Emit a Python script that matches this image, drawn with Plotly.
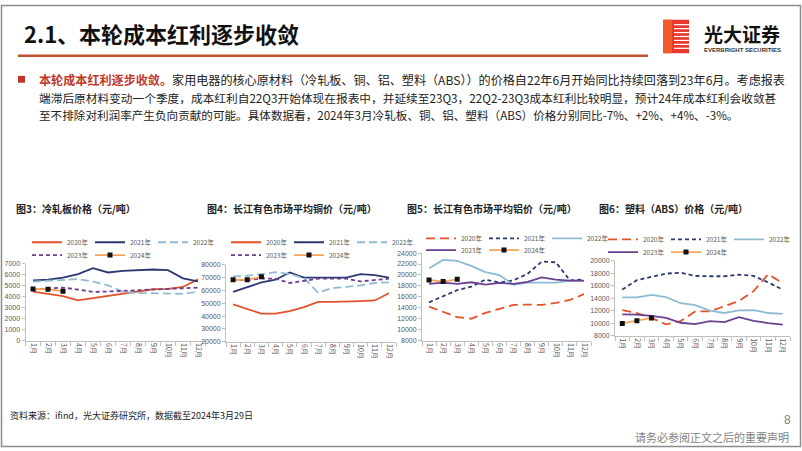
import plotly.graph_objects as go

W, H = 802, 451

months = ["1月", "2月", "3月", "4月", "5月", "6月", "7月", "8月", "9月", "10月", "11月", "12月"]
years = ["2020年", "2021年", "2022年", "2023年", "2024年"]

# 图3 冷轧板价格
steel_2020 = [4480, 4270, 4060, 3670, 3880, 4090, 4330, 4540, 4690, 4720, 4900, 5590]
steel_2021 = [5500, 5560, 5740, 6070, 6610, 6220, 6370, 6460, 6490, 6430, 5680, 5410]
steel_2022 = [5380, 5470, 5530, 5620, 5380, 5050, 4450, 4330, 4330, 4330, 4270, 4480]
steel_2023 = [4660, 4720, 4840, 4660, 4450, 4480, 4540, 4540, 4600, 4690, 4750, 4840]
steel_2024 = [4720, 4690, 4510]

# 图4 长江有色市场平均铜价
copper_2020 = [49100, 45750, 41900, 41900, 43950, 47000, 51150, 51150, 51700, 51700, 52200, 57850]
copper_2021 = [58900, 62500, 66350, 68400, 74100, 70000, 70000, 70000, 70000, 72800, 72000, 70000]
copper_2022 = [71000, 71500, 72800, 74300, 72800, 69700, 58400, 62000, 62750, 64000, 65850, 66350]
copper_2023 = [68150, 68150, 69450, 69200, 65850, 67650, 69200, 69200, 69200, 67100, 68150, 69200]
copper_2024 = [68400, 68400, 70700]

# 图5 长江有色市场平均铝价
alu_2020 = [14230, 13210, 12310, 12010, 13090, 13810, 14530, 14590, 14530, 14890, 15430, 16510]
alu_2021 = [15010, 16090, 17230, 17890, 19150, 18610, 19030, 20220, 22440, 22320, 19030, 19150]
alu_2022 = [21240, 22740, 22560, 21660, 20520, 19980, 18190, 18610, 18610, 18610, 18910, 18910]
alu_2023 = [18370, 18610, 18370, 18670, 18250, 18550, 18370, 18730, 19570, 19150, 18970, 18970]
alu_2024 = [19090, 18790, 19210]

# 图6 塑料（ABS）价格
abs_2020 = [12120, 11650, 10870, 9830, 10350, 11910, 11910, 12800, 13580, 15150, 17860, 16450]
abs_2021 = [15410, 16920, 17440, 17970, 18120, 17600, 17550, 17550, 17810, 17600, 16560, 15410]
abs_2022 = [14160, 14160, 14570, 14210, 13220, 12900, 12020, 11650, 12070, 12120, 11650, 11500]
abs_2023 = [11440, 11390, 11180, 10870, 10090, 9880, 10350, 10190, 10970, 10400, 10030, 9770]
abs_2024 = [9980, 10400, 10870]

chart_titles = ["图3：冷轧板价格（元/吨）", "图4：长江有色市场平均铜价（元/吨）",
                "图5：长江有色市场平均铝价（元/吨）", "图6：塑料（ABS）价格（元/吨）"]
y_ranges = [(0, 7000, 1000), (20000, 80000, 10000), (8000, 24000, 2000), (8000, 20000, 2000)]

series = [
    [steel_2020, steel_2021, steel_2022, steel_2023, steel_2024],
    [copper_2020, copper_2021, copper_2022, copper_2023, copper_2024],
    [alu_2020, alu_2021, alu_2022, alu_2023, alu_2024],
    [abs_2020, abs_2021, abs_2022, abs_2023, abs_2024],
]

# layout (pixel boxes): x0, x1, ytop, ybottom
boxes = [(25.5, 205.5, 264, 342), (226, 396, 265, 343), (422, 591, 253, 342), (615, 790, 261, 337)]
title_pos = [(14, 208), (205, 208), (405, 208), (597, 208)]
legend_pos = [(27, 242, 255), (226, 242, 255), (421, 238, 250), (603, 239, 252)]

C2020 = "#e2532c"
C2021 = "#2e3870"
C2022 = "#8fbbd2"
C2023 = "#6c3f90"
C2024 = "#f5a55a"
styles_a = [(C2020, "solid"), (C2021, "solid"), (C2022, "8px,4px"), (C2023, "4px,3px")]
styles_b = [(C2020, "9px,5px"), (C2021, "4px,3px"), (C2022, "solid"), (C2023, "solid")]


def px(x):
    return x / W


def py(y):
    return 1 - y / H


fig = go.Figure()
layout = dict(
    width=W, height=H, autosize=False,
    margin=dict(l=0, r=0, t=0, b=0),
    paper_bgcolor="white", plot_bgcolor="white",
    font=dict(family="Noto Sans CJK SC, Liberation Sans", color="#333333"),
)

for i in range(4):
    n = "" if i == 0 else str(i + 1)
    xa, ya = "x" + n, "y" + n
    x0, x1, yt, yb = boxes[i]
    lo, hi, dt = y_ranges[i]
    styles = styles_a if i < 2 else styles_b
    lg1 = "legend" if i == 0 else "legend" + str(2 * i + 1)
    lg2 = "legend" + str(2 * i + 2)
    for k in range(4):
        col, dash = styles[k]
        fig.add_trace(go.Scatter(
            x=months, y=series[i][k], name=years[k], mode="lines",
            line=dict(color=col, width=1.8, dash=dash),
            xaxis=xa, yaxis=ya, legend=lg1 if k < 3 else lg2,
        ))
    fig.add_trace(go.Scatter(
        x=months[:len(series[i][4])], y=series[i][4], name=years[4], mode="lines+markers",
        line=dict(color=C2024, width=1.8),
        marker=dict(symbol="square", size=5, color="#111111"),
        xaxis=xa, yaxis=ya, legend=lg2,
    ))
    layout["xaxis" + n] = dict(
        domain=[px(x0), px(x1)], anchor=ya, type="category", range=[-0.5, 11.5],
        showline=True, linecolor="#bfbfbf", linewidth=1, ticks="outside", ticklen=4,
        tickcolor="#bfbfbf", tickson="boundaries", tickangle=90, showgrid=False,
        tickfont=dict(size=7, color="#595959", family="Noto Sans CJK SC"),
    )
    layout["yaxis" + n] = dict(
        domain=[py(yb), py(yt)], anchor=xa, range=[lo, hi], dtick=dt, tick0=lo,
        showline=True, linecolor="#bfbfbf", linewidth=1, ticks="outside", ticklen=3,
        tickcolor="#bfbfbf", showgrid=False, zeroline=False, tickformat="d",
        tickfont=dict(size=7, color="#595959", family="Liberation Sans"),
    )
    lx, ly1, ly2 = legend_pos[i]
    for lg, ly in ((lg1, ly1), (lg2, ly2)):
        layout[lg] = dict(
            x=px(lx), y=py(ly), xanchor="left", yanchor="middle", orientation="h",
            bgcolor="rgba(0,0,0,0)", borderwidth=0, itemwidth=30,
            font=dict(size=6.5, color="#595959", family="Noto Sans CJK SC"),
            tracegroupgap=0, traceorder="normal", entrywidth=18,
        )

annotations = []
shapes = []

# frame
shapes.append(dict(type="rect", xref="paper", yref="paper", x0=px(1.5), x1=px(800.5), y0=py(449.5), y1=py(1.5),
                   line=dict(color="#8c8c8c", width=1.5)))
# title underline
shapes.append(dict(type="line", xref="paper", yref="paper", x0=px(18), x1=px(648), y0=py(52.5), y1=py(52.5),
                   line=dict(color="#c0522f", width=2.5)))
# logo block
shapes.append(dict(type="rect", xref="paper", yref="paper", x0=px(663), x1=px(689), y0=py(50), y1=py(16),
                   line=dict(width=0), fillcolor="#e8392e"))
shapes.append(dict(type="rect", xref="paper", yref="paper", x0=px(663), x1=px(672), y0=py(50), y1=py(16),
                   line=dict(width=0), fillcolor="#f25a2a"))
for sy in [21, 25, 29, 33, 37, 41, 45]:
    shapes.append(dict(type="line", xref="paper", yref="paper", x0=px(674), x1=px(690), y0=py(sy), y1=py(sy),
                       line=dict(color="white", width=1.2)))
# bullet
shapes.append(dict(type="rect", xref="paper", yref="paper", x0=px(18), x1=px(25), y0=py(80), y1=py(73),
                   line=dict(width=0), fillcolor="#c0392b"))

annotations.append(dict(text="<b>2.1、本轮成本红利逐步收敛</b>", x=px(22), y=py(29), xref="paper", yref="paper",
                        xanchor="left", yanchor="middle", showarrow=False,
                        font=dict(size=22, color="#111111", family="Noto Sans CJK SC")))
annotations.append(dict(text="<b>光大证券</b>", x=px(702), y=py(30), xref="paper", yref="paper",
                        xanchor="left", yanchor="middle", showarrow=False,
                        font=dict(size=19, color="#111111", family="Noto Sans CJK SC")))
annotations.append(dict(text="<b>EVERBRIGHT SECURITIES</b>", x=px(702), y=py(46.5), xref="paper", yref="paper",
                        xanchor="left", yanchor="middle", showarrow=False,
                        font=dict(size=6, color="#333333", family="Liberation Sans")))

para = [
    "<span style='color:#c0392b'><b>本轮成本红利逐步收敛。</b></span>家用电器的核心原材料（冷轧板、铜、铝、塑料（ABS））的价格自22年6月开始同比持续回落到23年6月。考虑报表",
    "端滞后原材料变动一个季度，成本红利自22Q3开始体现在报表中，并延续至23Q3，22Q2-23Q3成本红利比较明显，预计24年成本红利会收敛甚",
    "至不排除对利润率产生负向贡献的可能。具体数据看，2024年3月冷轧板、铜、铝、塑料（ABS）价格分别同比-7%、+2%、+4%、-3%。",
]
para_sizes = [12.1, 11.7, 11.6]
for j, t in enumerate(para):
    annotations.append(dict(text=t, x=px(37), y=py(77 + 18 * j), xref="paper", yref="paper",
                            xanchor="left", yanchor="middle", showarrow=False,
                            font=dict(size=para_sizes[j], color="#222222", family="Noto Sans CJK SC")))

for i in range(4):
    tx, ty = title_pos[i]
    annotations.append(dict(text="<b>" + chart_titles[i] + "</b>", x=px(tx), y=py(ty), xref="paper", yref="paper",
                            xanchor="left", yanchor="middle", showarrow=False,
                            font=dict(size=10, color="#222222", family="Noto Sans CJK SC")))

annotations.append(dict(text="资料来源：ifind，光大证券研究所，数据截至2024年3月29日", x=px(8), y=py(418),
                        xref="paper", yref="paper", xanchor="left", yanchor="middle", showarrow=False,
                        font=dict(size=9, color="#222222", family="Noto Sans CJK SC")))
annotations.append(dict(text="8", x=px(787), y=py(423), xref="paper", yref="paper", xanchor="center",
                        yanchor="middle", showarrow=False, font=dict(size=12, color="#7f7f7f", family="Liberation Sans")))
annotations.append(dict(text="请务必参阅正文之后的重要声明", x=px(791), y=py(440), xref="paper", yref="paper",
                        xanchor="right", yanchor="middle", showarrow=False,
                        font=dict(size=11, color="#7f7f7f", family="Noto Sans CJK SC")))

layout["annotations"] = annotations
layout["shapes"] = shapes
fig.update_layout(**layout)
fig.write_html("out.html", config={"displayModeBar": False},
               post_script="document.body.style.margin='0';document.body.style.overflow='hidden';")
